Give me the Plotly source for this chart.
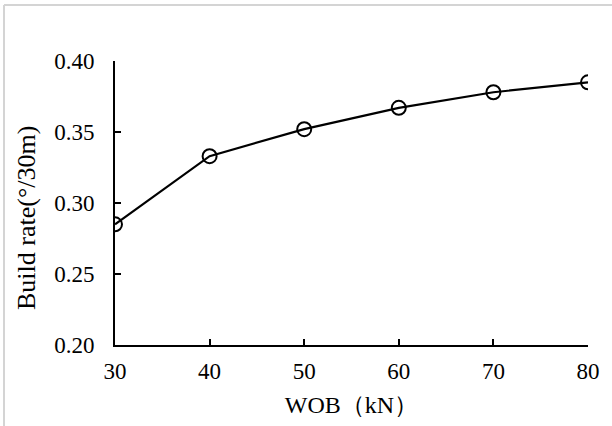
import plotly.graph_objects as go

# Weight on bit (kN) vs. build rate (°/30m)
wob = [30, 40, 50, 60, 70, 80]
build_rate = [0.285, 0.333, 0.352, 0.367, 0.378, 0.385]

x_ticks = [30, 40, 50, 60, 70, 80]
y_ticks = [0.20, 0.25, 0.30, 0.35, 0.40]
y_tick_text = ["0.20", "0.25", "0.30", "0.35", "0.40"]

W, H = 612, 426
L, R, T, B = 115, 24, 61, 81
pw, ph = W - L - R, H - T - B

font_family = "Liberation Serif, Times New Roman, serif"

fig = go.Figure()
fig.add_trace(go.Scatter(
    x=wob, y=build_rate,
    mode="lines+markers",
    line=dict(color="black", width=2.2),
    marker=dict(symbol="circle-open", size=14, color="black", line=dict(width=2)),
    showlegend=False,
))

# thin frame around the chart area (top and left edges)
fx = (4 - L) / pw
fy = (H - B - 5) / ph
fig.add_shape(type="line", xref="paper", yref="paper", x0=fx, x1=(W - L) / pw + 0.01,
              y0=fy, y1=fy, line=dict(color="#d4d4d4", width=2))
fig.add_shape(type="line", xref="paper", yref="paper", x0=fx, x1=fx,
              y0=fy, y1=-(B + 5) / ph, line=dict(color="#d4d4d4", width=2))

# y-axis title placed as a rotated annotation
fig.add_annotation(
    text="Build rate(°/30m)", textangle=-90, showarrow=False,
    xref="paper", yref="paper", x=(26 - L) / pw, y=(H - B - 218) / ph,
    xanchor="center", yanchor="middle", font=dict(size=26, family=font_family, color="black"),
)

fig.update_layout(
    width=W, height=H,
    margin=dict(l=L, r=R, t=T, b=B),
    paper_bgcolor="white", plot_bgcolor="white",
    font=dict(family=font_family, color="black"),
    xaxis=dict(
        range=[30, 80], tickvals=x_ticks, ticks="inside", ticklen=6, tickwidth=2,
        tickcolor="black", showline=True, linecolor="black", linewidth=2,
        showgrid=False, zeroline=False, tickfont=dict(size=23),
        title=dict(text="WOB（kN）", font=dict(size=24), standoff=14),
        ticklabelstandoff=4,
    ),
    yaxis=dict(
        range=[0.20, 0.40], tickvals=y_ticks, ticktext=y_tick_text, ticks="inside",
        ticklen=6, tickwidth=2, tickcolor="black", showline=True, linecolor="black",
        linewidth=2, showgrid=False, zeroline=False, tickfont=dict(size=23),
        ticklabelstandoff=14,
    ),
)

fig.write_html("out.html")
